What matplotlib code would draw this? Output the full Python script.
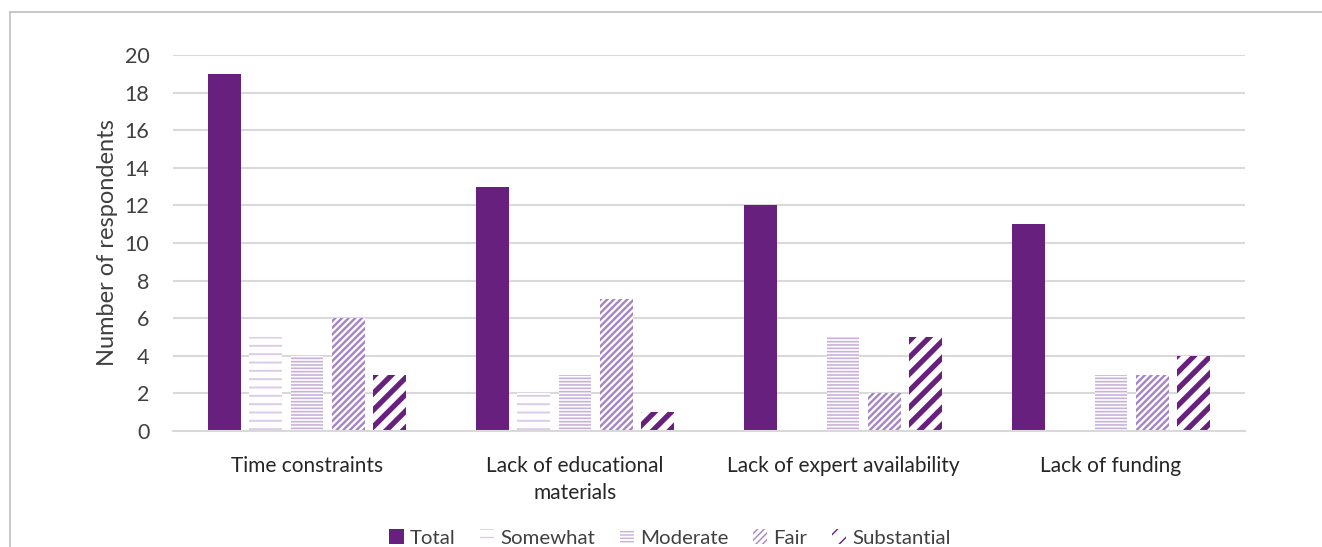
import matplotlib
matplotlib.use("Agg")
import matplotlib.pyplot as plt
import numpy as np
from matplotlib.lines import Line2D
from matplotlib.patches import Patch

plt.rcParams['font.family'] = ['Lato', 'DejaVu Sans']

categories = ["Time constraints", "Lack of educational\nmaterials",
              "Lack of expert availability", "Lack of funding"]
series_names = ["Total", "Somewhat", "Moderate", "Fair", "Substantial"]
total = [19, 13, 12, 11]
somewhat = [5, 2, 0, 0]
moderate = [4, 3, 5, 3]
fair = [6, 7, 2, 3]
substantial = [3, 1, 5, 4]
series = [total, somewhat, moderate, fair, substantial]
yticks = [0, 2, 4, 6, 8, 10, 12, 14, 16, 18, 20]

colors = ["#68207f", "#dccbe8", "#c7b0da", "#a583c5", "#68207f"]
hatches = [None, "--", "-----", "/////", "//"]
hlw = [1.0, 1.4, 1.2, 1.7, 3.8]

fig = plt.figure(figsize=(13.22, 5.47), dpi=100)
ax = fig.add_axes([173/1322, 1-431/547, (1245-173)/1322, (431-55)/547])

x = np.arange(len(categories))
step = 0.154
width = 0.123
for i, (name, vals) in enumerate(zip(series_names, series)):
    pos = x + (i - 2) * step
    if hatches[i] is None:
        ax.bar(pos, vals, width, color=colors[i], linewidth=0, label=name)
    else:
        bars = ax.bar(pos, vals, width, facecolor="white", edgecolor=colors[i],
                      hatch=hatches[i], linewidth=0, label=name)
        for b in bars:
            if hasattr(b, "set_hatch_linewidth"):
                b.set_hatch_linewidth(hlw[i])

ax.set_xlim(-0.5, len(categories) - 0.5)
ax.set_ylim(0, 20)
ax.set_yticks(yticks)
ax.set_xticks(x)
ax.set_xticklabels(categories, fontsize=15, color="#262626", linespacing=1.45)
ax.tick_params(axis='y', length=0, pad=17, labelsize=15.5, labelcolor="#404040")
ax.tick_params(axis='x', length=0, pad=18)
ax.grid(axis='y', color="#d9d9d9", linewidth=1.5)
ax.set_axisbelow(True)
for s in ["top", "right", "left"]:
    ax.spines[s].set_visible(False)
ax.spines["bottom"].set_color("#d9d9d9")
ax.spines["bottom"].set_linewidth(1.5)
ax.set_ylabel("Number of respondents", fontsize=17, color="#404040")
ax.yaxis.set_label_coords(-0.0513, 0.5)

handles = []
for i, name in enumerate(series_names):
    if hatches[i] is None:
        h = Patch(facecolor=colors[i], linewidth=0, label=name)
    else:
        h = Patch(facecolor="white", edgecolor=colors[i], hatch=hatches[i], linewidth=0, label=name)
        if hasattr(h, "set_hatch_linewidth"):
            h.set_hatch_linewidth(hlw[i])
    handles.append(h)
fig.legend(handles=handles, loc="center", bbox_to_anchor=(670/1322, 1-538/547),
           ncol=5, frameon=False, fontsize=14.7, handlelength=0.7, handleheight=0.7,
           handletextpad=0.3, columnspacing=1.2, labelcolor="#404040")

# figure frame lines (top and left)
fx = 10/1322
fy = 1 - 12/547
fig.add_artist(Line2D([fx, fx], [0, fy], transform=fig.transFigure, color="#bfbfbf", linewidth=1.2))
fig.add_artist(Line2D([fx, 1], [fy, fy], transform=fig.transFigure, color="#bfbfbf", linewidth=1.2))

fig.savefig("out.png", dpi=100, facecolor="white")
